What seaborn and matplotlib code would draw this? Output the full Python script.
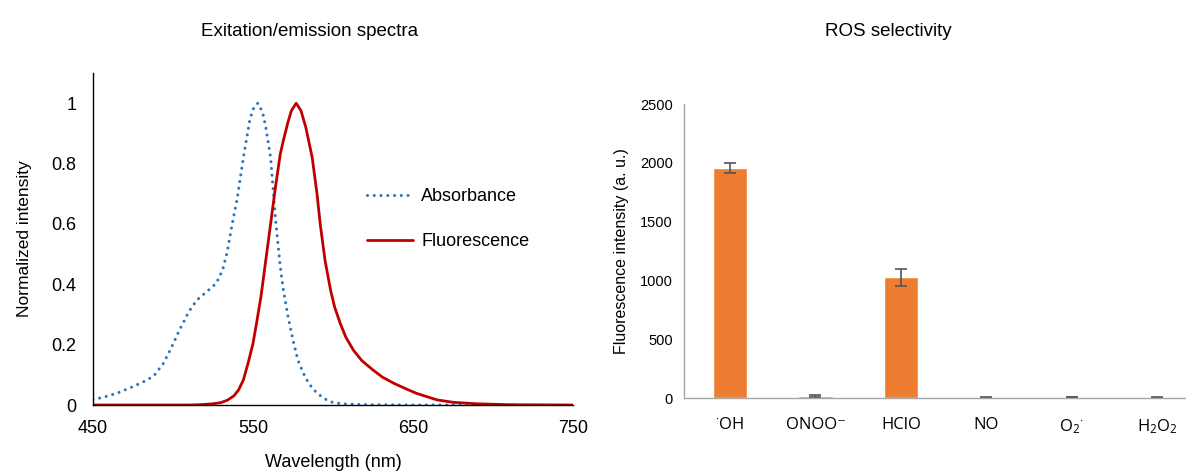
import numpy as np
import pandas as pd
import matplotlib
matplotlib.use('Agg')
import matplotlib.pyplot as plt
import seaborn as sns

# spectra
abs_wl = [450, 456, 465, 475, 482, 488, 494, 499, 504, 510, 515, 521, 527, 531, 534,
          537, 540, 544, 548, 550, 553, 556, 558, 561, 564, 567, 569, 572, 575, 578,
          581.5, 585, 590, 595, 599, 605, 620, 650, 715]
abs_int = [0.018, 0.025, 0.039, 0.061, 0.078, 0.096, 0.138, 0.19, 0.248, 0.31, 0.348, 0.375, 0.403, 0.447, 0.51,
           0.6, 0.68, 0.82, 0.944, 0.98, 1.0, 0.97, 0.92, 0.82, 0.62, 0.46, 0.38, 0.29, 0.215, 0.15,
           0.105, 0.07, 0.039, 0.02, 0.01, 0.004, 0.001, 0.0, 0.0]

flu_wl = [450, 510, 517, 525, 530, 534, 538, 541, 544, 547, 550, 552.5, 555, 557.5, 560,
          564, 567, 569, 572, 574, 577, 580, 583, 587, 590, 592, 595, 598.5, 601, 604.4,
          608, 612.7, 618, 625, 631, 638, 645, 652, 659, 665, 675, 690, 710, 750]
flu_int = [0.0, 0.0, 0.001, 0.004, 0.008, 0.016, 0.03, 0.05, 0.083, 0.14, 0.204, 0.28, 0.36, 0.46, 0.56,
           0.72, 0.83, 0.877, 0.94, 0.975, 1.0, 0.975, 0.92, 0.82, 0.7, 0.6, 0.48, 0.38, 0.325, 0.272,
           0.225, 0.182, 0.147, 0.116, 0.092, 0.072, 0.055, 0.039, 0.027, 0.017, 0.009, 0.004, 0.001, 0.0]

# ROS selectivity bars
species = [r'$^{\cdot}$OH', 'ONOO\u207b', 'HClO', 'NO', r'O$_2$$^{\cdot}$', r'H$_2$O$_2$']
intensity = [1955, 18, 1025, 3, 8, 5]
errors = [42, 6, 70, 2, 3, 2]

sns.set_style("white")
plt.rcParams['font.family'] = ['Liberation Sans', 'DejaVu Sans']
plt.rcParams['text.color'] = 'black'
plt.rcParams['axes.labelcolor'] = 'black'
plt.rcParams['xtick.color'] = 'black'
plt.rcParams['ytick.color'] = 'black'
plt.rcParams['mathtext.fontset'] = 'custom'
plt.rcParams['mathtext.rm'] = 'Open Sans'
plt.rcParams['mathtext.it'] = 'Open Sans'

fig = plt.figure(figsize=(11.86, 4.74), dpi=100)

# ---- left: spectra ----
ax1 = fig.add_axes([93 / 1186, 1 - 405 / 474, (573 - 93) / 1186, (405 - 73) / 474])
sns.lineplot(x=abs_wl, y=abs_int, ax=ax1, color='#2E75B6', linestyle=(0, (0.01, 2.2)),
             linewidth=2.2, dash_capstyle='round', label='Absorbance')
sns.lineplot(x=flu_wl, y=flu_int, ax=ax1, color='#C00000', linewidth=2.0, label='Fluorescence')
ax1.set_xlim(450, 750)
ax1.set_ylim(0, 1.1)
ax1.set_xticks([450, 500, 550, 600, 650, 700, 750])
ax1.set_xticklabels(['450', '', '550', '', '650', '', '750'])
ax1.set_yticks([0, 0.2, 0.4, 0.6, 0.8, 1.0])
ax1.set_yticklabels(['0', '0.2', '0.4', '0.6', '0.8', '1'])
ax1.tick_params(direction='in', length=4, width=1, labelsize=13, colors='black')
ax1.tick_params(axis='x', pad=11)
ax1.tick_params(axis='y', pad=12)
for s in ['top', 'right']:
    ax1.spines[s].set_visible(False)
for s in ['left', 'bottom']:
    ax1.spines[s].set_color('black')
    ax1.spines[s].set_linewidth(1)
ax1.set_xlabel('Wavelength (nm)', fontsize=13, labelpad=12)
ax1.set_ylabel('Normalized intensity', fontsize=12.5, labelpad=14)
ax1.legend(frameon=False, fontsize=13, loc='center left', bbox_to_anchor=(0.571, 0.559),
           borderpad=0, borderaxespad=0, handlelength=2.55, labelspacing=1.55, handletextpad=0.45)

# ---- right: ROS selectivity ----
ax2 = fig.add_axes([684 / 1186, 1 - 398 / 474, (1186 - 684) / 1186, (398 - 104) / 474])
df = pd.DataFrame({'species': species, 'intensity': intensity})
sns.barplot(data=df, x='species', y='intensity', ax=ax2, color='#ED7D31', saturation=1,
            width=0.4, errorbar=None)
ax2.errorbar(range(len(species)), intensity, yerr=errors, fmt='none', ecolor='#555555',
             elinewidth=1.2, capsize=4, capthick=1.2)
ax2.set_xlim(-0.54, 5.34)
ax2.set_ylim(0, 2500)
ax2.set_yticks([0, 500, 1000, 1500, 2000, 2500])
ax2.tick_params(axis='y', direction='out', length=4, color='#a6a6a6', labelsize=10.5, pad=4)
ax2.tick_params(axis='x', length=0, labelsize=12, pad=14)
for lab in ax2.get_xticklabels():
    lab.set_fontfamily(['Open Sans', 'DejaVu Sans'])
for s in ['top', 'right']:
    ax2.spines[s].set_visible(False)
for s in ['left', 'bottom']:
    ax2.spines[s].set_color('#a6a6a6')
    ax2.spines[s].set_linewidth(1)
ax2.set_xlabel('')
ax2.set_ylabel('Fluorescence intensity (a. u.)', fontsize=11.5, labelpad=8)

fig.text(310 / 1186, 1 - 32 / 474, 'Exitation/emission spectra', fontsize=13.5, ha='center', va='center')
fig.text(888 / 1186, 1 - 32 / 474, 'ROS selectivity', fontsize=13.5, ha='center', va='center')

plt.savefig('out.png', dpi=100)
